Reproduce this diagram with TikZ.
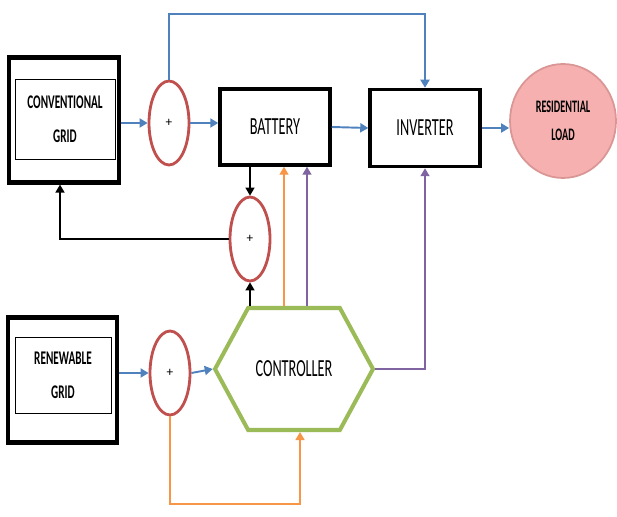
\documentclass[tikz,border=0pt]{standalone}
\usepackage{fontspec}
\setmainfont{Carlito}
\newfontfamily\narrowfont[FakeStretch=0.58]{Carlito}
\usetikzlibrary{positioning}
\usetikzlibrary{shapes.geometric,shapes.symbols}
\usetikzlibrary{arrows.meta}
\definecolor{flowblue}{RGB}{79,129,189}
\definecolor{sumred}{RGB}{192,80,77}
\definecolor{ctrlgreen}{RGB}{155,187,89}
\definecolor{feedorange}{RGB}{247,150,70}
\definecolor{ctrlpurple}{RGB}{128,100,162}
\definecolor{loadpink}{RGB}{246,176,176}

\begin{document}
\begin{tikzpicture}[
		x=0.02cm,y=-0.02cm,
		>={Triangle[length=1.6mm,width=1.8mm]},
		every node/.append style={
			font=\narrowfont,
			align=center,
			inner sep=0pt,
		},
		gridbox/.style={draw=black,line width=2.4pt,minimum width=2.2cm,minimum height=2.5cm},
		gridlabel/.style={draw=black,thin,font=\narrowfont\bfseries\fontsize{11}{19.5}\selectfont},
		block/.style={draw=black,line width=2pt,minimum width=2.2cm,minimum height=1.52cm,
			font=\narrowfont\fontsize{14}{16}\selectfont},
		sum/.style={ellipse,draw=sumred,line width=1.6pt,minimum width=0.8cm,minimum height=1.68cm,
			font=\fontsize{7.5}{8}\selectfont},
		flow/.style={->,draw=flowblue,line width=1.1pt},
		link/.style={->,draw=black,line width=0.9pt},
	]
	\useasboundingbox (0,0) rectangle (617,516);
	% left side of the picture
	\node[gridbox] (convgrid) at (64,120) {};
	\node[gridlabel,minimum width=2cm,minimum height=1.6cm] (convlabel) at (65,119) {CONVENTIONAL\\GRID};
	\node[gridbox,minimum width=2.18cm] (renewgrid) at (62.5,380) {};
	\node[gridlabel,minimum width=1.92cm,minimum height=1.52cm] (renewlabel) at (63,375) {RENEWABLE\\GRID};
	\node[sum] (sum1) at (169,123) {+};
	\node[sum] (sum2) at (250,239) {+};
	\node[sum] (sum3) at (170,373) {+};
	% blocks in the middle and on the right
	\node[block] (battery) at (275,127) {BATTERY};
	\node[block,minimum height=1.54cm] (inverter) at (425,128) {INVERTER};
	\node[ellipse,draw=sumred!60,fill=loadpink,line width=1pt,minimum width=2.12cm,minimum height=2.28cm,
		font=\narrowfont\bfseries\fontsize{10}{16}\selectfont] (load) at (563,121) {RESIDENTIAL\\LOAD};
	\node[signal,signal to=east and west,signal pointer angle=123,draw=ctrlgreen,line width=2.3pt,
		minimum width=3.16cm,minimum height=2.44cm,font=\narrowfont\fontsize{14}{16}\selectfont]
		(controller) at (294,369) {CONTROLLER};
	% helper points
	\coordinate (topline) at (300,14);
	\coordinate (feedback) at (60,233);
	\coordinate (orangebase) at (300,504);
	\coordinate (orangefoot) at ([xshift=-0.2cm]controller.north);
	\coordinate (purplefoot) at ([xshift=0.26cm]controller.north);
	% draw the connection lines
	\draw[flow] (convgrid.east |- sum1) -- (sum1.west);
	\draw[flow] (sum1.east) -- (sum1 -| battery.west);
	\draw[flow] (battery.east) -- (inverter.west);
	\draw[flow] (inverter.east) -- (inverter -| load.west);
	\draw[flow] (sum1.north) |- (topline) -| (inverter.north);
	\draw[flow] (renewgrid.east |- sum3) -- (sum3.west);
	\draw[flow] (sum3.east) -- (controller.west);
	\draw[link] (sum2.north |- battery.south) -- (sum2.north);
	\draw[link] (sum2.south |- controller.north) -- (sum2.south);
	\draw[link] (sum2.west) -| (feedback |- convgrid.south);
	\draw[->,feedorange,line width=0.8pt] (orangefoot) -- (orangefoot |- battery.south);
	\draw[->,ctrlpurple,line width=0.8pt] (purplefoot) -- (purplefoot |- battery.south);
	\draw[->,ctrlpurple,line width=0.8pt] (controller.east) -| (inverter.south);
	\draw[->,feedorange,line width=0.8pt] (sum3.south) |- (orangebase) -- (orangebase |- controller.south);
\end{tikzpicture}
\end{document}
